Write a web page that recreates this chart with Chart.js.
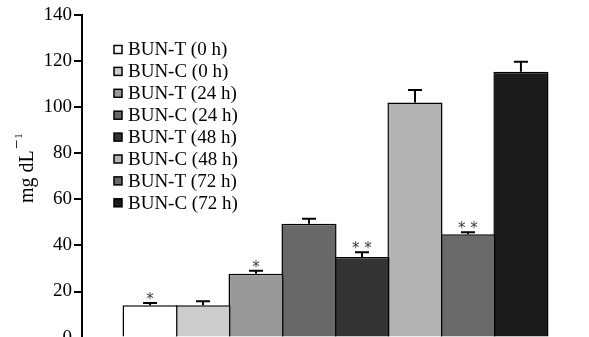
<!DOCTYPE html>
<html>
<head>
<meta charset="utf-8">
<script src="https://cdn.jsdelivr.net/npm/chart.js@4/dist/chart.umd.min.js"></script>
<style>
  html, body { margin: 0; padding: 0; background: #fff; overflow: hidden; width: 589px; height: 337px; }
  canvas { display: block; }
</style>
</head>
<body>
<canvas id="chart" width="589" height="351"></canvas>
<script>
// groups and readings (mg/dL)
const groups = ['BUN-T (0 h)', 'BUN-C (0 h)', 'BUN-T (24 h)', 'BUN-C (24 h)',
                'BUN-T (48 h)', 'BUN-C (48 h)', 'BUN-T (72 h)', 'BUN-C (72 h)'];
const means = [14, 14, 27.7, 49.4, 35, 102, 44.8, 115.4];
const errors = [1, 1.8, 1.3, 2.2, 2, 5.5, 0.9, 4.3];
const marks = ['*', '', '*', '', '**', '', '**', ''];
const yTicks = [0, 20, 40, 60, 80, 100, 120, 140];

const fills = ['#ffffff', '#cccccc', '#999999', '#686868',
               '#333333', '#b3b3b3', '#6a6a6a', '#1b1b1b'];

const SERIF = "'Liberation Serif', 'Times New Roman', serif";
Chart.defaults.font.family = SERIF;
Chart.defaults.color = '#000';

// upper error whiskers + significance stars
const errorBars = {
  id: 'errorBars',
  afterDatasetsDraw(chart) {
    const ctx = chart.ctx;
    const y = chart.scales.y;
    ctx.save();
    chart.data.datasets.forEach((ds, i) => {
      const bar = chart.getDatasetMeta(i).data[0];
      const top = y.getPixelForValue(means[i]);
      const hi = y.getPixelForValue(means[i] + errors[i]);
      ctx.strokeStyle = '#000';
      ctx.lineWidth = 2;
      ctx.beginPath();
      ctx.moveTo(bar.x, top);
      ctx.lineTo(bar.x, hi);
      ctx.moveTo(bar.x - 7, hi);
      ctx.lineTo(bar.x + 7, hi);
      ctx.stroke();
      if (marks[i]) {
        ctx.fillStyle = '#3a3a3a';
        ctx.font = "15px 'DejaVu Sans'";
        ctx.textAlign = 'center';
        ctx.textBaseline = 'alphabetic';
        ctx.fillText(marks[i].split('').join(' '), bar.x, hi + 1);
      }
    });
    ctx.restore();
  }
};

// legend sits inside the plot, top left
const insideLegend = {
  id: 'insideLegend',
  afterDraw(chart) {
    const ctx = chart.ctx;
    ctx.save();
    ctx.font = '19px ' + SERIF;
    ctx.textBaseline = 'middle';
    ctx.textAlign = 'left';
    chart.data.datasets.forEach((ds, i) => {
      const cy = 49.5 + i * 21.9;
      ctx.fillStyle = ds.backgroundColor;
      ctx.fillRect(114, cy - 4, 8, 8);
      ctx.strokeStyle = '#000';
      ctx.lineWidth = 1.5;
      ctx.strokeRect(114, cy - 4, 8, 8);
      ctx.fillStyle = '#000';
      ctx.fillText(ds.label, 128, cy + 1);
    });
    ctx.restore();
  }
};

// rotated y-axis title with superscript
const yTitle = {
  id: 'yTitle',
  afterDraw(chart) {
    const ctx = chart.ctx;
    ctx.save();
    ctx.fillStyle = '#000';
    ctx.translate(33, 203);
    ctx.rotate(-Math.PI / 2);
    ctx.textBaseline = 'alphabetic';
    ctx.textAlign = 'left';
    ctx.font = '20px ' + SERIF;
    const main = 'mg dL';
    const w = ctx.measureText(main).width;
    ctx.fillText(main, 0, 0);
    ctx.font = '17px ' + SERIF;
    ctx.fillText('\u2212', w + 1, -11);
    const wm = ctx.measureText('\u2212').width;
    ctx.font = '11px ' + SERIF;
    ctx.fillText('1', w + 2 + wm, -11);
    ctx.restore();
  }
};

new Chart(document.getElementById('chart'), {
  type: 'bar',
  data: {
    labels: [''],
    datasets: groups.map((g, i) => ({
      label: g,
      data: [means[i]],
      backgroundColor: fills[i],
      borderColor: '#000',
      borderWidth: 1.5,
      borderSkipped: 'start'
    }))
  },
  options: {
    responsive: false,
    animation: false,
    layout: { padding: { top: 15, right: 0, bottom: 0, left: 0 } },
    datasets: { bar: { categoryPercentage: 0.836, barPercentage: 1.04 } },
    plugins: { legend: { display: false }, tooltip: { enabled: false } },
    scales: {
      x: {
        grid: { display: false, drawTicks: false },
        ticks: { display: false },
        border: { display: true, color: '#000', width: 2 }
      },
      y: {
        min: 0,
        max: 140,
        afterBuildTicks: s => { s.ticks = yTicks.map(v => ({ value: v })); },
        afterFit: s => { s.width = 82; },
        grid: { display: true, drawOnChartArea: false, drawTicks: true, tickLength: 8, color: '#000', lineWidth: 2 },
        border: { display: true, color: '#000', width: 2 },
        ticks: { font: { size: 19 }, color: '#000', padding: 2 }
      }
    }
  },
  plugins: [errorBars, insideLegend, yTitle]
});
</script>
</body>
</html>
